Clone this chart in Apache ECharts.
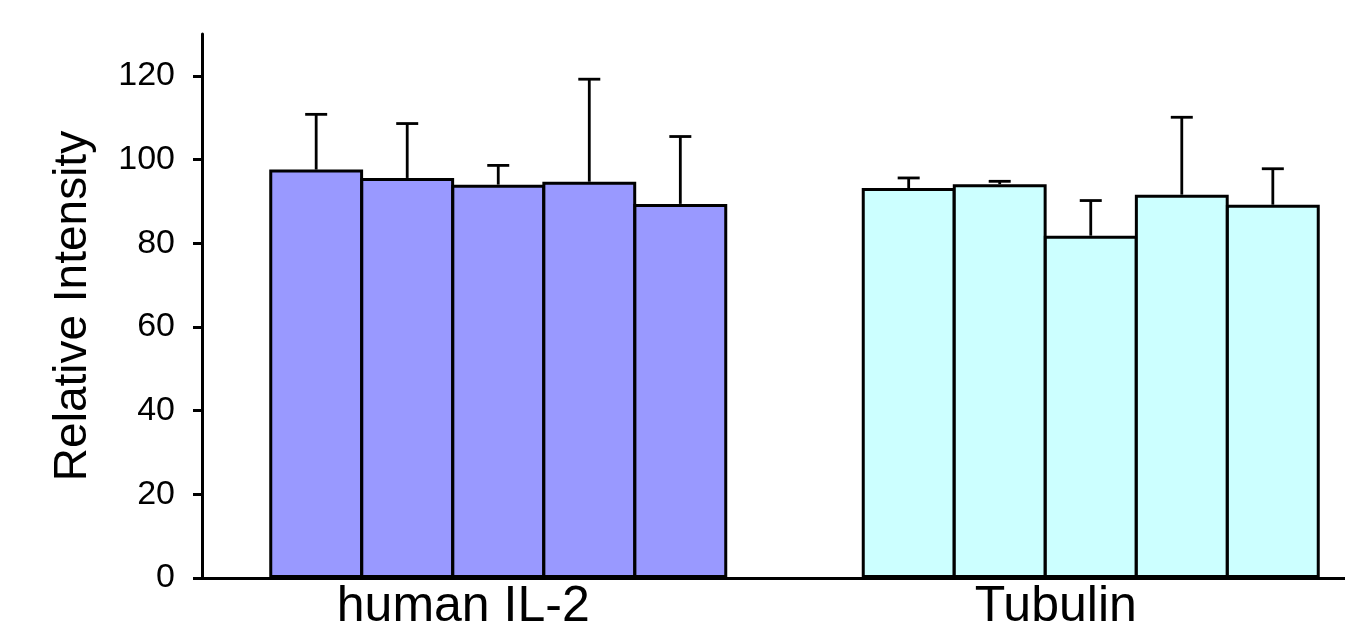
<!DOCTYPE html>
<html>
<head>
<meta charset="utf-8">
<script src="https://cdn.jsdelivr.net/npm/echarts@6/dist/echarts.min.js"></script>
<style>
html,body{margin:0;padding:0;background:#fff;}
#chart{width:1345px;height:632px;}
</style>
</head>
<body>
<div id="chart"></div>
<script>
var categories = ['human IL-2', 'Tubulin'];
var il2Means = [97.6, 95.6, 94.0, 94.7, 89.4];
var il2Errors = [13.2, 13.0, 4.6, 24.5, 16.1];
var tubMeans = [93.2, 94.1, 81.8, 91.6, 89.2];
var tubErrors = [2.4, 0.7, 8.4, 18.5, 8.6];
var yTicks = [0, 20, 40, 60, 80, 100, 120];

var groupColors = ['#9999FF', '#CCFFFF'];
var nBars = il2Means.length;
var catGapRatio = 0.227;
var barGapRatio = -0.03;

var chart = echarts.init(document.getElementById('chart'));
var series = [];
for (var i = 0; i < nBars; i++) {
  series.push({
    type: 'bar',
    barGap: (barGapRatio * 100) + '%',
    barCategoryGap: (catGapRatio * 100) + '%',
    data: [
      { value: il2Means[i], itemStyle: { color: groupColors[0] } },
      { value: tubMeans[i], itemStyle: { color: groupColors[1] } }
    ],
    itemStyle: { borderColor: '#000', borderWidth: 3 },
    silent: true,
    z: 2
  });
}
var errData = [];
for (var i = 0; i < nBars; i++) {
  errData.push([0, i, il2Means[i], il2Errors[i]]);
  errData.push([1, i, tubMeans[i], tubErrors[i]]);
}
series.push({
  type: 'custom',
  data: errData,
  z: 1,
  silent: true,
  renderItem: function (params, api) {
    var cat = api.value(0), idx = api.value(1), mean = api.value(2), err = api.value(3);
    var base = api.coord([cat, mean]);
    var top = api.coord([cat, mean + err]);
    var catW = api.size([1, 0])[0];
    var used = catW * (1 - catGapRatio);
    var bw = used / (nBars + (nBars - 1) * barGapRatio);
    var step = bw * (1 + barGapRatio);
    var x = base[0] - used / 2 + bw / 2 + idx * step;
    var cap = 11;
    return {
      type: 'group',
      children: [
        { type: 'line', shape: { x1: x, y1: base[1], x2: x, y2: top[1] }, style: { stroke: '#000', lineWidth: 2.8 } },
        { type: 'line', shape: { x1: x - cap, y1: top[1], x2: x + cap, y2: top[1] }, style: { stroke: '#000', lineWidth: 2.8 } }
      ]
    };
  }
});

chart.setOption({
  animation: false,
  backgroundColor: '#fff',
  grid: { left: 202, right: -42, top: 34, bottom: 54, containLabel: false, outerBoundsMode: 'none' },
  xAxis: {
    type: 'category',
    data: categories,
    axisLine: { lineStyle: { color: '#000', width: 3 } },
    axisTick: { show: false },
    axisLabel: {
      color: '#000', fontSize: 50, fontFamily: 'Liberation Sans, Arial, sans-serif',
      margin: 4, padding: [0, 70, 0, 0]
    }
  },
  yAxis: {
    type: 'value',
    min: 0, max: 130, interval: 20,
    name: 'Relative Intensity',
    nameLocation: 'middle',
    nameGap: 106,
    nameTextStyle: { color: '#000', fontSize: 46, fontFamily: 'Liberation Sans, Arial, sans-serif' },
    axisLine: { show: true, lineStyle: { color: '#000', width: 3 } },
    axisTick: { show: true, length: 9, lineStyle: { color: '#000', width: 3 }, customValues: yTicks },
    axisLabel: { color: '#000', fontSize: 34, fontFamily: 'Liberation Sans, Arial, sans-serif', margin: 27, customValues: yTicks },
    splitLine: { show: false }
  },
  series: series
});
</script>
</body>
</html>
